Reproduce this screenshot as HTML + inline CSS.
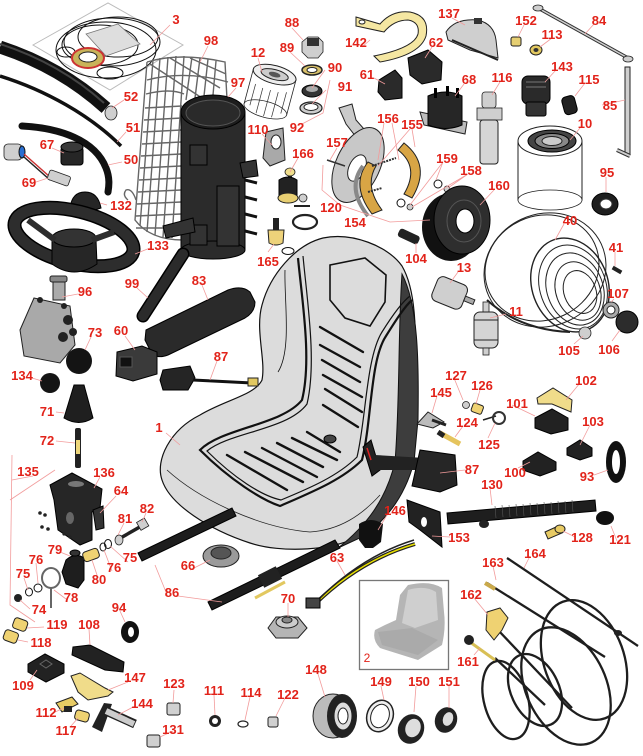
<!DOCTYPE html>
<html><head><meta charset="utf-8"><style>
html,body{margin:0;padding:0;background:#fff;width:643px;height:756px;overflow:hidden}
svg{display:block}
.l{font-family:"Liberation Sans",Arial,sans-serif;font-weight:bold;font-size:13px;fill:#e2231a;text-anchor:middle}
.ld{stroke:#f29b9b;stroke-width:0.8;fill:none}
.k{fill:#262626;stroke:#000;stroke-width:1}
.g{fill:#cfcfcf;stroke:#222;stroke-width:0.8}
.w{fill:#fff;stroke:#222;stroke-width:0.8}
.y{fill:#f0de8c;stroke:#222;stroke-width:0.8}
.o{fill:none;stroke:#111;stroke-width:1}
.cg{fill:none;stroke:#666;stroke-width:1.4}
</style></head><body>
<svg width="643" height="756" viewBox="0 0 643 756" xmlns="http://www.w3.org/2000/svg">
<rect width="643" height="756" fill="#fff"/>

<!-- ===== 3 gasket kit ===== -->
<polygon points="33,45 108,3 183,45 110,90" fill="#fff" stroke="#bbb" stroke-width="1"/>
<ellipse cx="112" cy="42" rx="48" ry="24" class="o" stroke-width="1.8"/>
<ellipse cx="118" cy="37" rx="40" ry="20" class="o" stroke-width="1.6"/>
<ellipse cx="106" cy="50" rx="50" ry="28" class="o" stroke-width="1.4"/>
<ellipse cx="100" cy="45" rx="38" ry="20" class="o" stroke-width="1.2"/>
<ellipse cx="110" cy="73" rx="13" ry="6" class="o" stroke-width="1.6"/>
<ellipse cx="66" cy="52" rx="9" ry="5" class="o" stroke-width="1.6"/>
<polygon points="86,34 118,24 140,44 106,56" fill="#dedede" stroke="#777" stroke-width="0.8"/>
<ellipse cx="88" cy="58" rx="16" ry="10" fill="#c9b35a" stroke="#c33" stroke-width="2"/>
<ellipse cx="88" cy="57" rx="9" ry="5" fill="#fff" stroke="#222"/>

<!-- ===== hoses ===== -->
<path d="M0,47 C40,60 75,80 106,108" stroke="#111" stroke-width="13" fill="none"/>
<path d="M0,44 C40,57 75,77 104,103" stroke="#444" stroke-width="2" fill="none"/>
<ellipse cx="111" cy="113" rx="6" ry="7" class="g"/>
<path d="M0,76 C45,90 90,115 121,146" stroke="#111" stroke-width="3.5" fill="none"/>
<path d="M22,126 C60,128 95,140 106,168 C110,178 109,186 108,192" stroke="#111" stroke-width="7" fill="none" stroke-linecap="round"/>

<!-- 67 knob -->
<rect x="61" y="147" width="22" height="18" rx="3" class="k"/>
<ellipse cx="72" cy="147" rx="11" ry="5" fill="#3a3a3a" stroke="#000"/>
<!-- 69 sensor -->
<rect x="4" y="144" width="18" height="16" rx="4" class="g"/>
<ellipse cx="22" cy="152" rx="3" ry="6" fill="#2a6fd1" stroke="#111"/>
<path d="M24,154 L50,177" stroke="#c33" stroke-width="1.5"/>
<path d="M24,157 L50,180" stroke="#222" stroke-width="1.5"/>
<rect x="48" y="173" width="22" height="10" rx="2" class="g" transform="rotate(20 59 178)"/>
<!-- 132 -->
<path d="M70,208 Q72,192 85,192 Q98,192 101,208 Q85,214 70,208 Z" class="k"/>

<!-- ===== 133 steering wheel ===== -->
<ellipse cx="74" cy="237" rx="61" ry="26" transform="rotate(14 74 237)" fill="none" stroke="#000" stroke-width="14"/>
<ellipse cx="74" cy="237" rx="61" ry="26" transform="rotate(14 74 237)" fill="none" stroke="#2d2d2d" stroke-width="11"/>
<path d="M52,238 L96,240 L97,264 Q74,280 52,264 Z" class="k"/>
<ellipse cx="74" cy="238" rx="22" ry="9" fill="#333" stroke="#000"/>
<path d="M28,220 L55,240" stroke="#2d2d2d" stroke-width="6"/>
<path d="M92,240 L114,232" stroke="#2d2d2d" stroke-width="6"/>

<!-- ===== 98 basket ===== -->
<g class="cg">
<path d="M147,62 Q180,52 225,62 L228,118"/>
<path d="M147,62 L135,220 Q150,240 183,240"/>
<path d="M153,60 L140,226"/><path d="M160,58 L147,232"/><path d="M168,57 L155,235"/><path d="M176,56 L163,237"/>
<path d="M184,56 L172,238"/><path d="M192,57 L186,100"/><path d="M200,58 L195,98"/><path d="M208,59 L204,96"/><path d="M216,61 L213,95"/>
<path d="M147,80 Q185,70 228,82"/><path d="M146,94 Q170,88 184,94"/>
<path d="M145,108 L182,106"/><path d="M144,120 L182,118"/><path d="M143,132 L181,130"/><path d="M142,144 L181,142"/>
<path d="M141,156 L181,154"/><path d="M140,168 L181,166"/><path d="M139,180 L181,178"/><path d="M138,192 L181,190"/>
<path d="M137,204 L181,202"/><path d="M136,216 L181,214"/><path d="M136,228 L165,228"/>
<path d="M128,200 Q122,195 126,190 Q132,188 136,200"/>
<path d="M150,64 L205,100"/><path d="M170,58 L220,88"/><path d="M190,58 L226,74"/>
</g>
<!-- ===== 97 canister ===== -->
<rect x="181" y="112" width="64" height="138" fill="#2b2b2b" stroke="#000"/>
<ellipse cx="213" cy="250" rx="32" ry="9" fill="#2b2b2b" stroke="#000"/>
<ellipse cx="213" cy="112" rx="32" ry="17" fill="#1d1d1d" stroke="#000"/>
<ellipse cx="213" cy="113" rx="27" ry="13" fill="#2a2a2a" stroke="#555"/>
<rect x="190" y="145" width="17" height="20" fill="#333" stroke="#000"/>
<rect x="190" y="225" width="17" height="20" fill="#333" stroke="#000"/>
<rect x="217" y="186" width="22" height="60" fill="#333" stroke="#000"/>
<path d="M240,163 L256,160 L258,176 L243,178 Z" fill="#333" stroke="#000"/>
<path d="M245,180 L257,183 M245,197 L257,200 M245,214 L257,217 M245,231 L257,234" stroke="#111" stroke-width="3"/>
<path d="M163,226 L193,218 L195,232 L166,238 Z" fill="#333" stroke="#000"/>

<!-- ===== 12 oil filter ===== -->
<g transform="rotate(15 270 92)">
<rect x="248" y="74" width="44" height="36" class="w"/>
<ellipse cx="270" cy="110" rx="22" ry="8" class="w"/>
<ellipse cx="270" cy="74" rx="22" ry="9" fill="#eee" stroke="#222"/>
<ellipse cx="270" cy="74" rx="14" ry="5" fill="#ccc" stroke="#222"/>
<ellipse cx="270" cy="74" rx="6" ry="2.5" fill="#555"/>
<path d="M254,88 L254,110 M262,90 L262,116 M270,90 L270,117 M278,90 L278,116 M286,88 L286,110" stroke="#333" stroke-width="0.7"/>
</g>

<!-- 88 89 90 92 -->
<path d="M302,42 L308,37 L318,37 L323,42 L323,52 L318,58 L308,58 L302,52 Z" class="g"/>
<rect x="307" y="38" width="12" height="8" fill="#333"/>
<ellipse cx="312" cy="70" rx="10" ry="5" fill="#d8c06a" stroke="#222" stroke-width="1.5"/>
<ellipse cx="312" cy="70" rx="5" ry="2.5" fill="#fff" stroke="#222"/>
<ellipse cx="312" cy="91" rx="10" ry="6" fill="#333" stroke="#000"/>
<ellipse cx="312" cy="89" rx="6" ry="3" fill="#aaa"/>
<ellipse cx="311" cy="108" rx="11" ry="6" fill="#ccc" stroke="#222" stroke-width="1.2"/>
<ellipse cx="311" cy="107" rx="7" ry="3.5" fill="#fff" stroke="#222"/>
<!-- 110 -->
<path d="M266,132 L283,128 L285,160 L270,166 L263,158 Z" fill="#a9a9a9" stroke="#222"/>
<ellipse cx="276" cy="142" rx="5" ry="7" fill="#fff" stroke="#222"/>
<!-- 166 -->
<rect x="288" y="168" width="4" height="10" fill="#222"/>
<ellipse cx="290" cy="172" rx="5" ry="4" class="y"/>
<path d="M279,180 Q288,174 297,180 L297,195 Q288,203 279,195 Z" fill="#222" stroke="#000"/>
<ellipse cx="288" cy="198" rx="10" ry="5" fill="#e8cf72" stroke="#222"/>
<ellipse cx="303" cy="198" rx="4" ry="4" class="g"/>
<path d="M294,206 L310,206" stroke="#222" stroke-width="2"/>
<ellipse cx="305" cy="222" rx="12" ry="7" fill="none" stroke="#222" stroke-width="2.2"/>
<!-- 165 -->
<rect x="273" y="218" width="6" height="12" fill="#222"/>
<path d="M268,230 L284,230 L283,243 Q276,247 269,243 Z" fill="#eed27a" stroke="#222"/>
<ellipse cx="288" cy="251" rx="6" ry="3.5" class="o" stroke-width="1.5"/>

<!-- ===== top right ===== -->
<path d="M356,17 L380,24 Q392,10 410,12 Q430,16 426,36 Q420,55 380,62 L374,56 Q414,48 418,34 Q420,22 408,20 Q394,20 384,32 L356,26 Z" fill="#f5e7a2" stroke="#222"/>
<ellipse cx="362" cy="22" rx="3" ry="2" fill="#fff" stroke="#222"/>
<path d="M446,32 Q455,18 478,20 Q494,24 496,40 L498,58 L470,50 L448,40 Z" fill="#cfcfcf" stroke="#222"/>
<rect x="474" y="18" width="8" height="6" fill="#333"/>
<path d="M452,40 L498,60" stroke="#222" stroke-width="2"/>
<rect x="511" y="37" width="10" height="9" rx="2" fill="#e6cf72" stroke="#222"/>
<ellipse cx="536" cy="50" rx="6" ry="5" fill="#e2c860" stroke="#222"/>
<ellipse cx="536" cy="50" rx="2.5" ry="2" fill="#333"/>
<path d="M538,8 L628,58" stroke="#333" stroke-width="3.5"/>
<path d="M538,8 L628,58" stroke="#cfcfcf" stroke-width="1.5"/>
<ellipse cx="538" cy="8" rx="5" ry="3" class="g"/>
<ellipse cx="628" cy="59" rx="5" ry="3" class="g"/>
<rect x="625" y="67" width="5" height="88" fill="#cfcfcf" stroke="#222"/>
<path d="M617,150 L630,156" stroke="#333" stroke-width="4"/>
<path d="M617,150 L630,156" stroke="#ccc" stroke-width="2"/>
<path d="M408,58 L428,50 L442,62 L441,80 L422,84 L410,75 Z" fill="#2a2a2a" stroke="#000"/>
<path d="M379,80 L395,70 L402,78 L402,98 L385,100 L378,92 Z" fill="#2a2a2a" stroke="#000"/>
<path d="M420,112 L467,122 L465,134 L424,125 Z" fill="#bcbcbc" stroke="#222"/>
<path d="M428,96 Q446,88 462,96 L462,125 Q446,132 428,125 Z" fill="#262626" stroke="#000"/>
<rect x="434" y="88" width="3" height="10" fill="#000"/><rect x="446" y="86" width="3" height="10" fill="#000"/><rect x="456" y="88" width="3" height="10" fill="#000"/>
<rect x="482" y="92" width="14" height="16" rx="3" class="g"/>
<rect x="477" y="108" width="25" height="12" class="g"/>
<rect x="480" y="120" width="18" height="44" rx="3" fill="#d6d6d6" stroke="#222"/>
<rect x="522" y="76" width="28" height="28" rx="6" fill="#2a2a2a" stroke="#000"/>
<rect x="526" y="102" width="20" height="14" rx="2" fill="#333" stroke="#000"/>
<path d="M526,82 L546,82 M526,87 L546,87" stroke="#777"/>
<rect x="563" y="96" width="13" height="18" rx="4" fill="#222" stroke="#000" transform="rotate(-15 570 105)"/>
<!-- 10 filter -->
<rect x="518" y="142" width="64" height="58" fill="#fff" stroke="#222"/>
<ellipse cx="550" cy="200" rx="32" ry="10" class="w"/>
<ellipse cx="550" cy="141" rx="32" ry="15" fill="#fff" stroke="#222"/>
<ellipse cx="552" cy="141" rx="24" ry="11" fill="#444" stroke="#000"/>
<ellipse cx="552" cy="141" rx="17" ry="7.5" fill="#888" stroke="#000"/>
<ellipse cx="552" cy="141" rx="10" ry="4.5" fill="#ccc" stroke="#222"/>
<ellipse cx="605" cy="204" rx="13" ry="11" fill="#1f1f1f" stroke="#000"/>
<ellipse cx="606" cy="204" rx="6" ry="5" fill="#fff" stroke="#333"/>

<!-- ===== brake ===== -->
<path d="M339,108 L352,104 L356,120 L372,138 L360,142 L346,124 Z" fill="#cacaca" stroke="#222"/>
<ellipse cx="358" cy="165" rx="22" ry="40" transform="rotate(25 358 165)" fill="#c8c8c8" stroke="#222"/>
<ellipse cx="357" cy="168" rx="8" ry="14" transform="rotate(25 357 168)" fill="#fff" stroke="#222"/>
<path d="M368,162 Q350,185 372,214 L382,210 Q364,186 376,166 Z" fill="#d8a545" stroke="#222"/>
<path d="M363,166 Q346,188 368,216" fill="none" stroke="#888" stroke-width="4"/>
<path d="M404,143 Q432,165 412,198 L404,194 Q420,167 398,150 Z" fill="#d8a545" stroke="#222"/>
<path d="M372,166 L396,158 M368,192 L382,188" stroke="#333" stroke-width="2" stroke-dasharray="2,1"/>
<path d="M327,160 L345,166" stroke="#333" stroke-width="1.5"/>
<ellipse cx="438" cy="184" rx="4" ry="4" class="o" stroke-width="2"/>
<ellipse cx="447" cy="189" rx="3" ry="3" class="g"/>
<ellipse cx="401" cy="203" rx="4" ry="4" class="o" stroke-width="2"/>
<ellipse cx="410" cy="207" rx="3" ry="3" class="g"/>
<!-- 160 drum -->
<ellipse cx="451" cy="227" rx="29" ry="34" fill="#111"/>
<ellipse cx="462" cy="220" rx="28" ry="34" fill="#2e2e2e" stroke="#000"/>
<ellipse cx="464" cy="221" rx="17" ry="21" fill="none" stroke="#555"/>
<ellipse cx="465" cy="221" rx="9" ry="12" fill="#fff" stroke="#000"/>
<rect x="398" y="232" width="22" height="9" rx="3" fill="#222" transform="rotate(25 409 236)"/>

<!-- 40 rim -->
<g fill="none" stroke="#222" stroke-width="1">
<ellipse cx="545" cy="270" rx="62" ry="56" transform="rotate(-25 545 270)"/>
<ellipse cx="542" cy="268" rx="58" ry="52" transform="rotate(-25 542 268)"/>
<ellipse cx="570" cy="285" rx="38" ry="48" transform="rotate(-20 570 285)" stroke-width="1.4"/>
<ellipse cx="573" cy="287" rx="33" ry="43" transform="rotate(-20 573 287)"/>
<ellipse cx="575" cy="289" rx="28" ry="37" transform="rotate(-20 575 289)"/>
<ellipse cx="578" cy="291" rx="22" ry="30" transform="rotate(-20 578 291)"/>
<ellipse cx="580" cy="292" rx="16" ry="22" transform="rotate(-20 580 292)"/>
</g>
<path d="M487,300 Q520,330 570,332" fill="none" stroke="#222" stroke-width="2"/>
<rect x="612" y="268" width="10" height="4" fill="#222" transform="rotate(30 617 270)"/>
<ellipse cx="611" cy="310" rx="8" ry="8" fill="#aaa" stroke="#222"/>
<ellipse cx="611" cy="310" rx="4" ry="4" fill="#fff" stroke="#222"/>
<ellipse cx="627" cy="322" rx="11" ry="11" fill="#2c2c2c" stroke="#000"/>
<ellipse cx="585" cy="333" rx="6" ry="6" class="g"/>
<g transform="rotate(22 450 292)">
<rect x="434" y="280" width="32" height="26" rx="6" fill="#cfcfcf" stroke="#222"/>
<rect x="466" y="290" width="10" height="5" fill="#aaa" stroke="#222"/>
</g>
<rect x="483" y="302" width="6" height="10" class="g"/>
<rect x="474" y="312" width="24" height="36" rx="6" fill="#d4d4d4" stroke="#222"/>
<path d="M474,320 L498,320 M474,340 L498,340" stroke="#222"/>
<rect x="483" y="348" width="6" height="7" class="g"/>

<!-- ===== seat ===== -->
<path d="M323,238 C352,232 388,246 402,266 C416,290 416,330 415,370 L413,455 C408,485 393,512 365,533 C335,552 280,553 250,543 C210,530 170,505 162,480 C155,460 170,430 200,415 C225,400 255,395 262,380 C266,360 255,330 262,305 C270,275 295,245 323,238 Z" fill="#dcdcdc" stroke="#111" stroke-width="1.2"/>
<path d="M402,274 C418,305 419,360 418,420 L414,462 C406,492 390,518 362,537 L338,548 C366,526 386,500 395,462 C400,400 398,330 402,274 Z" fill="#3d3d3d" stroke="#111"/>
<path d="M167,470 C200,500 260,528 310,532 C340,530 362,515 380,495" fill="none" stroke="#222" stroke-width="0.8"/>
<path d="M330,265 L365,258 L386,275 L385,302 L370,326 L345,318 L330,300 Z" fill="none" stroke="#111" stroke-width="1.6"/>
<g fill="none" stroke="#111">
<path d="M298,258 C302,300 312,360 302,400 C282,425 222,428 200,450 C230,480 262,500 280,506 C312,492 342,480 362,460 C372,420 370,360 386,336 C396,320 405,306 412,300" stroke-width="2.2"/>
<path d="M303,256 C307,300 317,362 307,404 C288,430 230,432 207,451 C234,478 262,496 281,500 C310,488 338,476 357,457 C366,420 366,358 382,332 C392,316 402,302 410,296" stroke-width="1.2"/>
<path d="M285,270 C284,300 292,350 278,372" stroke-width="0.8"/>
</g>
<g stroke="#111" stroke-width="2.4" stroke-linecap="round">
<path d="M320,327 L363,352"/><path d="M320,345 L360,367"/><path d="M322,360 L360,382"/>
<path d="M323,375 L362,397"/><path d="M325,389 L362,412"/><path d="M323,405 L358,427"/>
<path d="M227,455 L287,490"/><path d="M245,452 L303,482"/><path d="M262,448 L317,477"/>
<path d="M277,443 L323,467"/><path d="M292,438 L337,460"/><path d="M307,432 L340,452"/>
</g>
<ellipse cx="330" cy="439" rx="6" ry="4" fill="#444" stroke="#000"/>

<!-- 99 rod -->
<path d="M183,254 L143,316" stroke="#000" stroke-width="13" stroke-linecap="round"/>
<path d="M183,254 L143,316" stroke="#2b2b2b" stroke-width="10" stroke-linecap="round"/>
<!-- 83 armrest -->
<path d="M146,330 L228,290 Q242,285 250,292 L255,302 Q255,312 245,318 L168,355 Q155,360 150,350 L145,340 Z" fill="#2a2a2a" stroke="#000"/>
<!-- 96 -->
<rect x="53" y="278" width="12" height="22" fill="#aaa" stroke="#222"/>
<rect x="50" y="276" width="17" height="6" rx="2" fill="#888" stroke="#222"/>
<path d="M34,298 L70,306 L75,345 L60,363 L24,356 L20,330 Z" fill="#a9a9a9" stroke="#222"/>
<circle cx="68" cy="320" r="5" fill="#222"/><circle cx="63" cy="337" r="5" fill="#222"/><circle cx="73" cy="332" r="4" fill="#222"/><circle cx="40" cy="300" r="3" fill="#222"/><circle cx="64" cy="306" r="3" fill="#222"/>
<circle cx="79" cy="361" r="13" fill="#141414"/>
<circle cx="50" cy="383" r="10" fill="#141414"/>
<path d="M74,385 L84,385 L93,418 Q79,427 64,418 Z" fill="#1f1f1f" stroke="#000"/>
<rect x="75" y="428" width="6" height="40" rx="2" fill="#222"/>
<rect x="76" y="440" width="4" height="14" fill="#eed67a"/>
<path d="M117,352 L142,346 L157,352 L157,374 L133,381 L116,376 Z" fill="#3a3a3a" stroke="#000"/>
<rect x="120" y="357" width="12" height="10" fill="#111" stroke="#555"/>
<path d="M163,370 L190,366 L195,378 L188,390 L163,390 L160,380 Z" fill="#252525" stroke="#000"/>
<path d="M193,380 L252,383" stroke="#111" stroke-width="3"/>
<rect x="248" y="378" width="10" height="8" fill="#e2c860" stroke="#222"/>

<!-- ===== 135 bracket ===== -->
<path d="M50,485 L72,473 L102,489 L100,508 L92,512 L92,540 L80,545 L58,530 L54,500 Z" fill="#262626" stroke="#000"/>
<ellipse cx="76" cy="484" rx="8" ry="3" fill="#777"/>
<ellipse cx="70" cy="518" rx="4" ry="6" fill="#666"/>
<path d="M93,510 L103,506 L104,528 L96,530 Z" fill="#333" stroke="#000"/>
<circle cx="40" cy="513" r="1.8" fill="#222"/><circle cx="45" cy="515" r="1.8" fill="#222"/><circle cx="42" cy="527" r="1.8" fill="#222"/><circle cx="48" cy="529" r="1.8" fill="#222"/>
<circle cx="64" cy="534" r="1.6" fill="#222"/><circle cx="70" cy="537" r="1.6" fill="#222"/>
<path d="M117,540 L145,524" stroke="#222" stroke-width="3.5"/>
<rect x="138" y="520" width="9" height="9" class="g" transform="rotate(-30 142 524)"/>
<ellipse cx="119" cy="540" rx="4" ry="5" class="g"/>
<ellipse cx="108" cy="544" rx="3.5" ry="4.5" class="o" stroke-width="1.5"/>
<ellipse cx="103" cy="547" rx="3" ry="4" class="o" stroke-width="1.5"/>
<path d="M66,560 Q75,552 84,558 L84,580 L78,588 L66,584 L62,572 Z" fill="#1e1e1e" stroke="#000"/>
<ellipse cx="75" cy="553" rx="5" ry="3" fill="#333" stroke="#000"/>
<rect x="83" y="550" width="16" height="10" rx="3" fill="#efd272" stroke="#222" transform="rotate(-20 91 555)"/>
<ellipse cx="51" cy="578" rx="9" ry="10" fill="none" stroke="#666" stroke-width="2"/>
<path d="M51,588 L51,608" stroke="#666" stroke-width="2"/>
<ellipse cx="38" cy="588" rx="4" ry="4" class="o" stroke-width="1.5"/>
<ellipse cx="29" cy="592" rx="3.5" ry="4" class="o" stroke-width="1.5"/>
<ellipse cx="18" cy="598" rx="4" ry="4" fill="#222"/>
<path d="M12,455 L10,605 L35,622" class="ld"/>
<path d="M10,500 L55,470" class="ld"/>

<!-- ===== rails 86 ===== -->
<path d="M138,553 L232,508 L236,516 L142,561 Z" fill="#1d1d1d" stroke="#000"/>
<path d="M208,602 L335,540 L340,548 L212,610 Z" fill="#1d1d1d" stroke="#000"/>
<rect x="260" y="570" width="20" height="14" fill="#222" transform="rotate(-27 270 577)"/>
<path d="M255,598 L285,582" stroke="#e2c860" stroke-width="3"/>
<ellipse cx="221" cy="556" rx="18" ry="11" fill="#9a9a9a" stroke="#222"/>
<ellipse cx="221" cy="553" rx="10" ry="6" fill="#555" stroke="#222"/>
<path d="M268,628 L276,617 L298,617 L307,628 L298,638 L276,638 Z" fill="#b5b5b5" stroke="#222"/>
<ellipse cx="287" cy="622" rx="11" ry="6" fill="#ccc" stroke="#222"/>
<ellipse cx="287" cy="620" rx="5" ry="3" fill="#888" stroke="#222"/>
<path d="M315,604 Q360,560 415,544" fill="none" stroke="#222" stroke-width="4"/>
<path d="M315,604 Q360,560 415,544" fill="none" stroke="#e8e000" stroke-width="1.5"/>
<path d="M318,600 Q362,556 414,540" fill="none" stroke="#222" stroke-width="1.5"/>
<rect x="306" y="598" width="14" height="10" fill="#444" stroke="#000"/>
<path d="M359,524 Q371,516 383,524 L381,542 L373,548 L365,548 L359,540 Z" fill="#111"/>
<path d="M407,500 L440,512 L442,547 L420,530 L409,522 Z" fill="#222" stroke="#000"/>
<ellipse cx="424" cy="522" rx="3" ry="5" fill="#fff"/>
<!-- seat belt 87 right -->
<path d="M363,447 L371,440 L380,470 L372,476 Z" fill="#222" stroke="#000"/>
<path d="M375,455 L425,458 L430,470 L378,470 Z" fill="#222"/>
<path d="M420,450 L455,455 L457,485 L440,492 L412,486 Z" fill="#262626" stroke="#000"/>
<path d="M367,448 L371,460" stroke="#d22" stroke-width="1.5"/>
<path d="M417,424 L428,412 L444,422 L433,428 Z" fill="#bbb" stroke="#222"/>
<path d="M432,420 L446,425" stroke="#222" stroke-width="3"/>
<ellipse cx="466" cy="405" rx="3.5" ry="3.5" class="g"/>
<rect x="472" y="404" width="11" height="9" rx="2" fill="#efd272" stroke="#222" transform="rotate(20 477 408)"/>
<path d="M483,420 L496,416" stroke="#222" stroke-width="1.5"/>
<ellipse cx="499" cy="418" rx="6" ry="6" fill="none" stroke="#333" stroke-width="2"/>
<path d="M440,433 L460,444" stroke="#e5c45e" stroke-width="5"/>
<path d="M438,432 L444,436" stroke="#222" stroke-width="5"/>
<path d="M537,398 L553,388 L572,400 L571,412 L552,404 L538,404 Z" fill="#f0dc8a" stroke="#222"/>
<path d="M535,418 L552,409 L568,418 L568,430 L551,434 L535,428 Z" fill="#222" stroke="#000"/>
<path d="M567,448 L580,440 L592,448 L592,456 L580,460 L567,455 Z" fill="#222" stroke="#000"/>
<path d="M523,461 L538,452 L556,462 L556,470 L540,476 L523,470 Z" fill="#222" stroke="#000"/>
<ellipse cx="616" cy="462" rx="10" ry="21" fill="#111"/>
<ellipse cx="616" cy="462" rx="4" ry="12" fill="#fff"/>
<!-- 130 shock -->
<path d="M447,513 L595,500 L596,511 L448,524 Z" fill="#1e1e1e" stroke="#000"/>
<g stroke="#555" stroke-width="0.6">
<path d="M495,506 L496,518 M502,505 L503,517 M509,505 L510,517 M516,504 L517,516 M523,504 L524,516 M530,503 L531,515 M537,503 L538,515 M544,502 L545,514 M551,502 L552,514 M558,501 L559,513 M565,501 L566,513 M572,500 L573,512"/>
</g>
<ellipse cx="484" cy="524" rx="5" ry="4" fill="#222"/>
<path d="M545,532 L556,527 L562,533 L548,539 Z" fill="#e8cb64" stroke="#222"/>
<ellipse cx="560" cy="529" rx="5" ry="4" fill="#e8cb64" stroke="#222"/>
<ellipse cx="605" cy="518" rx="9" ry="7" fill="#111"/>

<!-- ===== bottom left ===== -->
<rect x="13" y="619" width="14" height="11" rx="3" fill="#efd272" stroke="#222" transform="rotate(20 20 625)"/>
<rect x="4" y="631" width="14" height="11" rx="3" fill="#efd272" stroke="#222" transform="rotate(20 11 636)"/>
<ellipse cx="130" cy="632" rx="9" ry="11" fill="#111"/>
<ellipse cx="131" cy="632" rx="3" ry="5" fill="#fff"/>
<path d="M73,647 L90,645 L124,662 L123,672 L105,670 L72,655 Z" fill="#222" stroke="#000"/>
<path d="M28,664 L45,654 L64,664 L64,673 L46,682 L28,672 Z" fill="#222" stroke="#000"/>
<path d="M40,664 L46,660 L52,664 L46,668 Z" fill="none" stroke="#666"/>
<path d="M71,676 L80,673 L105,688 L113,692 L108,696 L88,700 L78,692 Z" fill="#f0dc8a" stroke="#222"/>
<path d="M92,727 L104,703 L112,704 L102,732 Z" fill="#222"/>
<path d="M106,711 L135,724" stroke="#222" stroke-width="9"/>
<path d="M106,711 L134,724" stroke="#ccc" stroke-width="6"/>
<path d="M56,703 L72,697 L78,704 L62,712 Z" fill="#e8cb64" stroke="#222"/>
<rect x="64" y="706" width="8" height="6" fill="#222"/>
<rect x="75" y="711" width="14" height="10" rx="3" fill="#efd272" stroke="#222" transform="rotate(15 82 716)"/>
<rect x="167" y="703" width="13" height="12" rx="2" fill="#d0d0d0" stroke="#222"/>
<rect x="147" y="735" width="13" height="12" rx="2" fill="#d0d0d0" stroke="#222"/>
<ellipse cx="215" cy="721" rx="6" ry="6" fill="#222"/>
<ellipse cx="215" cy="721" rx="3" ry="3" fill="#fff"/>
<ellipse cx="243" cy="724" rx="5" ry="3" fill="none" stroke="#222" stroke-width="1.2"/>
<rect x="268" y="717" width="10" height="10" rx="2" fill="#d0d0d0" stroke="#222"/>
<ellipse cx="333" cy="716" rx="20" ry="22" fill="#bbb" stroke="#222"/>
<ellipse cx="342" cy="716" rx="15" ry="22" fill="#222"/>
<ellipse cx="343" cy="716" rx="9" ry="14" fill="#ddd" stroke="#222"/>
<ellipse cx="343" cy="716" rx="5" ry="8" fill="#fff" stroke="#222"/>
<ellipse cx="380" cy="716" rx="13" ry="16" fill="#eee" stroke="#222" stroke-width="1.5" transform="rotate(20 380 716)"/>
<ellipse cx="380" cy="716" rx="9" ry="12" fill="#fff" stroke="#222" transform="rotate(20 380 716)"/>
<ellipse cx="411" cy="729" rx="13" ry="15" fill="#222" transform="rotate(20 411 729)"/>
<ellipse cx="413" cy="728" rx="8" ry="10" fill="#ddd" stroke="#222" transform="rotate(20 413 728)"/>
<ellipse cx="446" cy="720" rx="11" ry="13" fill="#222" transform="rotate(20 446 720)"/>
<ellipse cx="448" cy="719" rx="5" ry="7" fill="#ddd" transform="rotate(20 448 719)"/>

<!-- ===== 2 box ===== -->
<rect x="359.5" y="580.5" width="89" height="89" fill="#fff" stroke="#777" stroke-width="1.3"/>
<path d="M408,585 Q430,580 442,588 L444,612 Q446,628 442,645 L418,660 L380,648 Q372,640 375,630 L385,625 L396,620 L400,595 Z" fill="#b5b5b5"/>
<path d="M408,590 Q425,585 436,592 L438,620 L415,628 L402,623 Z" fill="#cfcfcf"/>
<path d="M378,632 L412,628 L438,640 L418,655 L382,645 Z" fill="#aaa"/>

<!-- ===== cables ===== -->
<g fill="none" stroke="#1e1e1e" stroke-width="2.3">
<ellipse cx="506" cy="700" rx="22" ry="40" transform="rotate(-15 506 700)"/>
<ellipse cx="535" cy="690" rx="24" ry="38" transform="rotate(-25 535 690)"/>
<ellipse cx="566" cy="686" rx="40" ry="62" transform="rotate(-25 566 686)"/>
<ellipse cx="584" cy="660" rx="40" ry="62" transform="rotate(-20 584 660)"/>
<path d="M507,558 L638,646"/>
<path d="M487,583 L605,657"/>
<path d="M498,630 L572,708"/>
<path d="M495,658 L545,705"/>
</g>
<path d="M470,642 L495,660" stroke="#d8bf55" stroke-width="3"/>
<ellipse cx="469" cy="640" rx="5" ry="5" fill="#222"/>
<path d="M487,612 L500,608 L508,618 L502,630 L494,640 L486,630 Z" fill="#efd272" stroke="#222"/>
<path d="M485,583 L495,589" stroke="#c9a94a" stroke-width="4"/>
<ellipse cx="618" cy="633" rx="4" ry="3" fill="#222"/>

<!-- ===== leader lines ===== -->
<g class="ld">
<path d="M170,25 L150,45"/><path d="M208,46 L200,62"/><path d="M292,28 L303,40"/><path d="M290,52 L305,66"/>
<path d="M258,58 L262,72"/><path d="M236,88 L228,97"/><path d="M124,100 L112,108"/><path d="M126,132 L117,142"/>
<path d="M122,162 L108,165"/><path d="M52,148 L64,153"/><path d="M36,182 L48,178"/><path d="M107,205 L100,203"/>
<path d="M262,134 L272,145"/><path d="M298,158 L290,172"/><path d="M150,248 L135,254"/><path d="M268,252 L274,244"/>
<path d="M325,70 L312,88"/><path d="M326,90 L312,104"/><path d="M302,124 L323,113 L330,80"/>
<path d="M362,47 L370,40"/><path d="M452,18 L465,25"/><path d="M524,25 L518,37"/><path d="M552,38 L540,47"/>
<path d="M594,24 L585,34"/><path d="M432,47 L425,58"/><path d="M374,78 L385,84"/><path d="M464,84 L455,96"/>
<path d="M500,82 L492,95"/><path d="M556,70 L545,82"/><path d="M585,83 L575,96"/><path d="M602,105 L625,100"/>
<path d="M580,128 L570,140"/><path d="M606,177 L606,192"/><path d="M384,123 L378,160 M392,123 L399,160"/>
<path d="M410,129 L378,166 M412,129 L415,147"/><path d="M337,148 L330,160"/><path d="M443,162 L436,180 M443,162 L410,205"/>
<path d="M468,174 L448,188 M468,174 L412,207"/><path d="M494,190 L480,205"/><path d="M323,165 L322,190 L340,205 L390,222 L430,220"/>
<path d="M564,224 L555,240"/><path d="M615,252 L615,266"/><path d="M416,253 L416,243"/><path d="M458,272 L450,283"/>
<path d="M506,314 L490,318"/><path d="M614,299 L611,302"/><path d="M574,344 L583,336"/><path d="M612,341 L620,330"/>
<path d="M78,294 L62,297"/><path d="M137,288 L148,298"/><path d="M202,285 L208,300"/><path d="M91,337 L85,350"/>
<path d="M125,336 L135,350"/><path d="M217,361 L210,380"/><path d="M32,378 L42,381"/><path d="M56,412 L64,413"/>
<path d="M56,441 L75,443"/><path d="M166,433 L180,445"/><path d="M33,476 L12,480"/><path d="M100,477 L94,488"/>
<path d="M116,496 L100,513"/><path d="M146,513 L142,522"/><path d="M124,523 L118,535"/><path d="M60,552 L70,556"/>
<path d="M36,563 L38,583"/><path d="M128,562 L110,546"/><path d="M112,571 L104,550"/><path d="M97,575 L92,560"/>
<path d="M66,599 L54,590"/><path d="M30,609 L20,600"/><path d="M24,578 L28,590"/><path d="M190,570 L210,560"/>
<path d="M168,597 L155,565 M178,596 L222,602"/><path d="M288,603 L288,617"/><path d="M120,611 L125,622"/>
<path d="M44,627 L27,628"/><path d="M28,642 L18,640"/><path d="M89,629 L90,645"/><path d="M30,680 L37,670"/>
<path d="M128,682 L108,690"/><path d="M135,706 L118,715"/><path d="M55,712 L64,708"/><path d="M71,726 L78,718"/>
<path d="M174,690 L173,703"/><path d="M173,731 L160,737"/><path d="M214,695 L215,715"/><path d="M250,697 L245,720"/>
<path d="M285,698 L276,716"/><path d="M318,674 L325,697"/><path d="M381,686 L384,700"/><path d="M416,686 L414,712"/>
<path d="M449,686 L449,708"/><path d="M387,515 L378,530"/><path d="M450,537 L432,536"/><path d="M575,537 L563,531"/>
<path d="M617,541 L611,526"/><path d="M530,556 L524,568"/><path d="M493,566 L496,580"/><path d="M474,598 L488,615"/>
<path d="M474,655 L480,648"/><path d="M337,561 L345,575"/><path d="M454,378 L463,400"/><path d="M480,390 L476,404"/>
<path d="M437,396 L432,413"/><path d="M463,426 L455,437"/><path d="M488,438 L495,423"/><path d="M512,405 L535,416"/>
<path d="M580,383 L566,400"/><path d="M590,425 L580,445"/><path d="M518,468 L530,462"/><path d="M594,475 L608,470"/>
<path d="M465,470 L440,473"/><path d="M490,488 L492,505"/>
</g>

<!-- ===== labels ===== -->
<g class="l">
<text x="176" y="24">3</text><text x="211" y="45">98</text><text x="292" y="27">88</text><text x="287" y="52">89</text>
<text x="335" y="72">90</text><text x="345" y="91">91</text><text x="297" y="132">92</text><text x="258" y="57">12</text>
<text x="238" y="87">97</text><text x="131" y="101">52</text><text x="133" y="132">51</text><text x="131" y="164">50</text>
<text x="47" y="149">67</text><text x="29" y="187">69</text><text x="121" y="210">132</text><text x="258" y="134">110</text>
<text x="303" y="158">166</text><text x="331" y="212">120</text><text x="158" y="250">133</text><text x="268" y="266">165</text>
<text x="356" y="47">142</text><text x="449" y="18">137</text><text x="526" y="25">152</text><text x="552" y="39">113</text>
<text x="599" y="25">84</text><text x="436" y="47">62</text><text x="367" y="79">61</text><text x="469" y="84">68</text>
<text x="502" y="82">116</text><text x="562" y="71">143</text><text x="589" y="84">115</text><text x="610" y="110">85</text>
<text x="585" y="128">10</text><text x="388" y="123">156</text><text x="412" y="129">155</text><text x="337" y="147">157</text>
<text x="447" y="163">159</text><text x="471" y="175">158</text><text x="499" y="190">160</text><text x="607" y="177">95</text>
<text x="355" y="227">154</text><text x="570" y="225">40</text><text x="616" y="252">41</text><text x="416" y="263">104</text>
<text x="464" y="272">13</text><text x="516" y="316">11</text><text x="618" y="298">107</text><text x="569" y="355">105</text>
<text x="609" y="354">106</text><text x="85" y="296">96</text><text x="132" y="288">99</text><text x="199" y="285">83</text>
<text x="95" y="337">73</text><text x="121" y="335">60</text><text x="221" y="361">87</text><text x="22" y="380">134</text>
<text x="47" y="416">71</text><text x="47" y="445">72</text><text x="159" y="432">1</text><text x="28" y="476">135</text>
<text x="104" y="477">136</text><text x="121" y="495">64</text><text x="147" y="513">82</text><text x="125" y="523">81</text>
<text x="55" y="554">79</text><text x="36" y="564">76</text><text x="130" y="562">75</text><text x="114" y="572">76</text>
<text x="99" y="584">80</text><text x="23" y="578">75</text><text x="71" y="602">78</text><text x="39" y="614">74</text>
<text x="188" y="570">66</text><text x="172" y="597">86</text><text x="288" y="603">70</text><text x="119" y="612">94</text>
<text x="57" y="629">119</text><text x="41" y="647">118</text><text x="89" y="629">108</text><text x="23" y="690">109</text>
<text x="135" y="682">147</text><text x="142" y="708">144</text><text x="46" y="717">112</text><text x="66" y="735">117</text>
<text x="174" y="688">123</text><text x="173" y="734">131</text><text x="214" y="695">111</text><text x="251" y="697">114</text>
<text x="288" y="699">122</text><text x="316" y="674">148</text><text x="395" y="515">146</text><text x="459" y="542">153</text>
<text x="582" y="542">128</text><text x="620" y="544">121</text><text x="535" y="558">164</text><text x="493" y="567">163</text>
<text x="337" y="562">63</text><text x="471" y="599">162</text><text x="468" y="666">161</text>
<text x="381" y="686">149</text><text x="419" y="686">150</text><text x="449" y="686">151</text>
<text x="456" y="380">127</text><text x="482" y="390">126</text><text x="441" y="397">145</text><text x="467" y="427">124</text>
<text x="489" y="449">125</text><text x="517" y="408">101</text><text x="586" y="385">102</text><text x="593" y="426">103</text>
<text x="515" y="477">100</text><text x="587" y="481">93</text><text x="472" y="474">87</text><text x="492" y="489">130</text>
</g>
<text x="367" y="662" style="font-family:'Liberation Sans',Arial,sans-serif;font-size:12px;fill:#e2231a;text-anchor:middle">2</text>
</svg>
</body></html>
